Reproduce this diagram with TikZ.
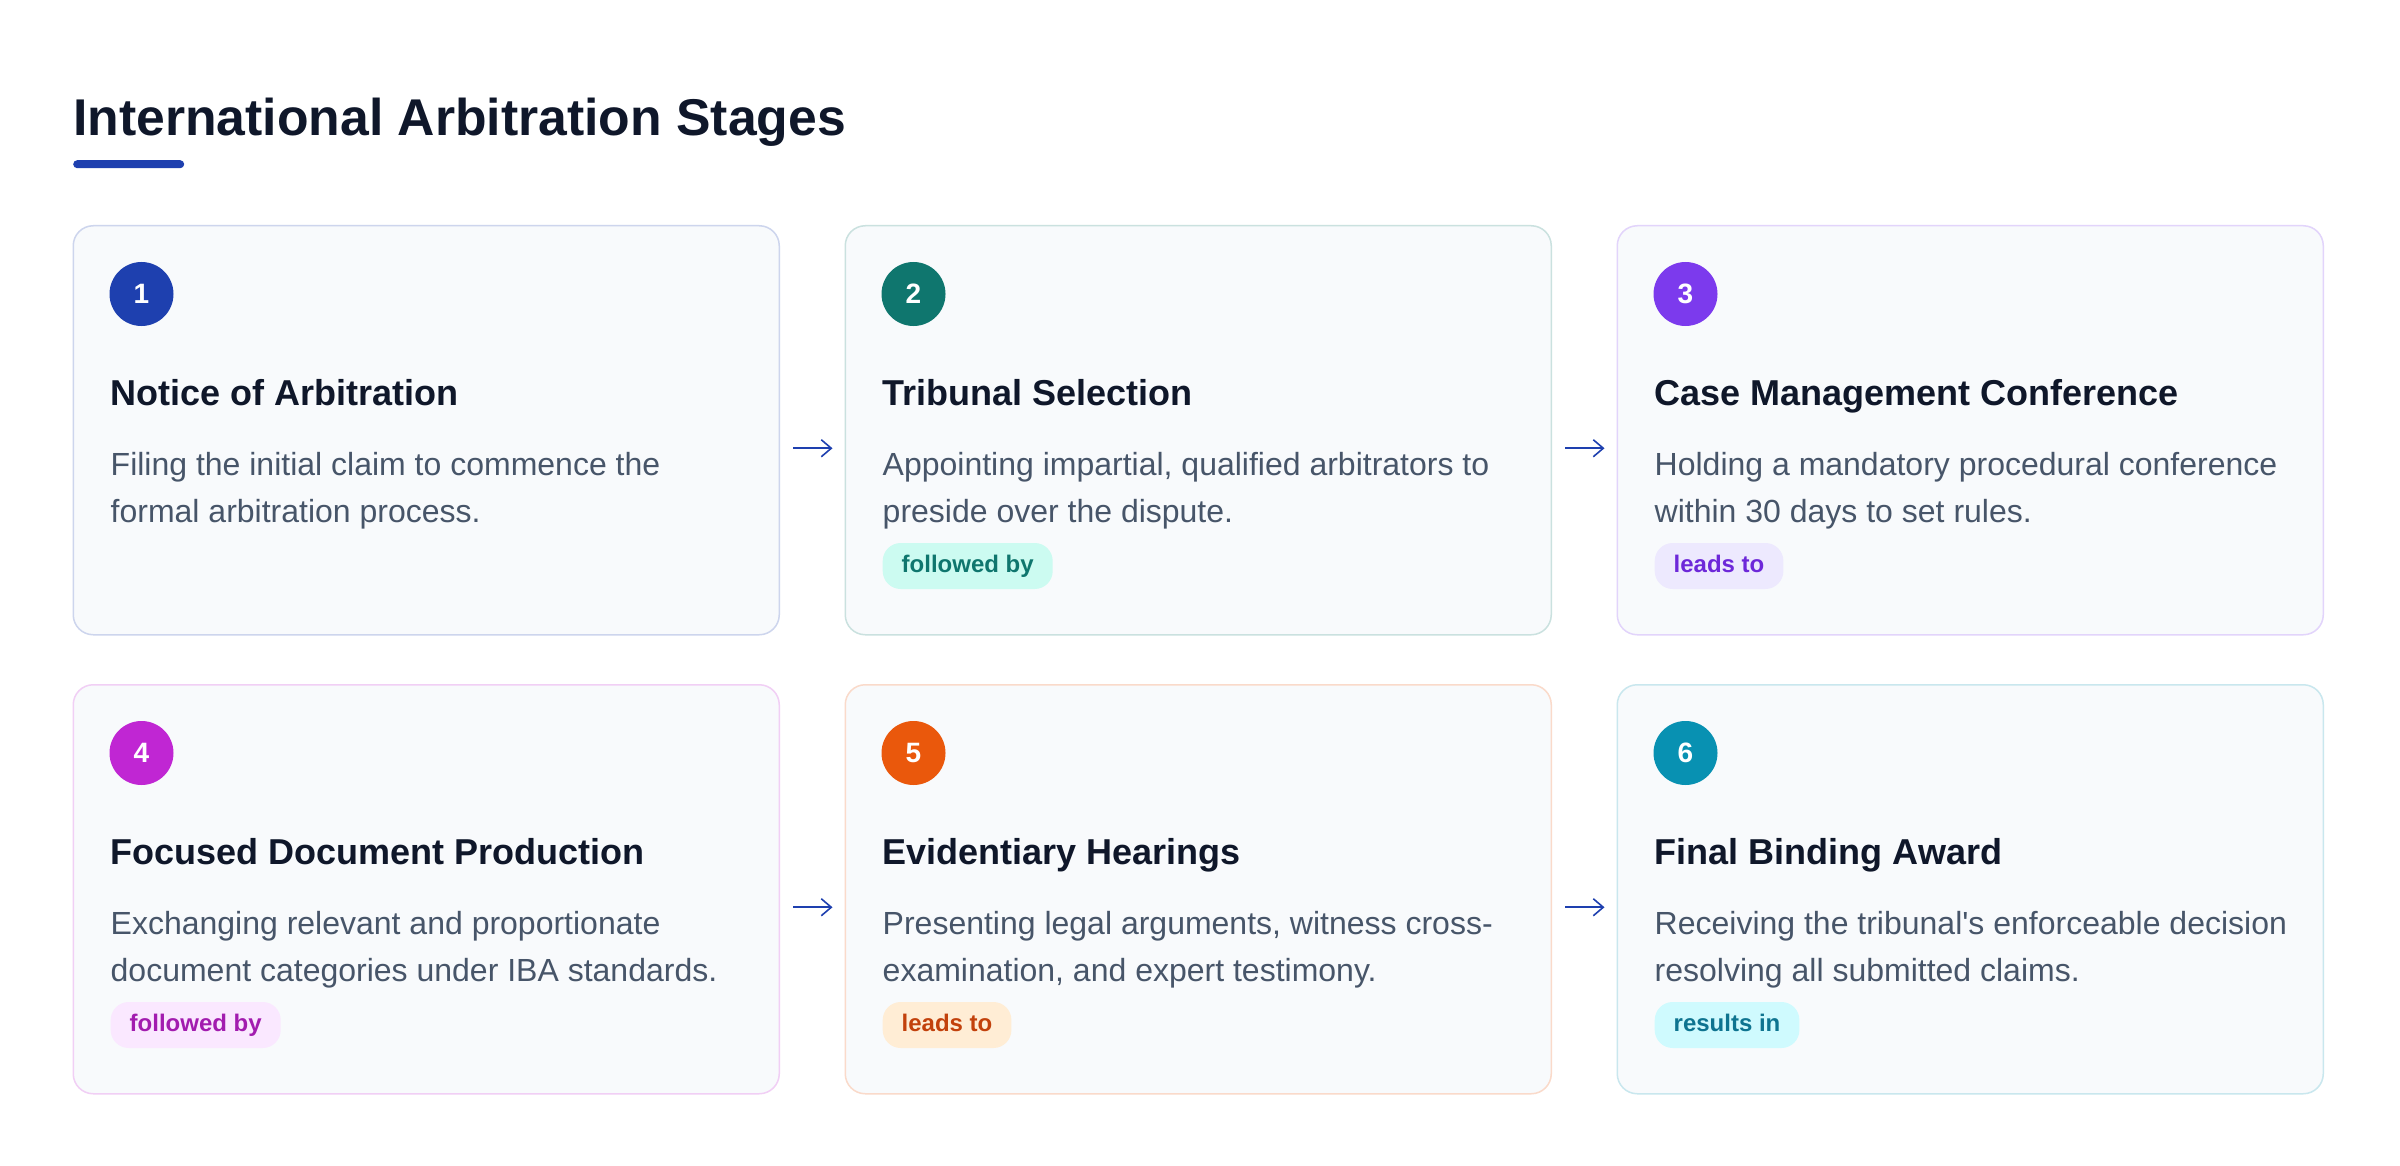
\documentclass[tikz,border=0pt]{standalone}
\usepackage{fontspec}
\setmainfont{Liberation Sans}[Ligatures=TeXOff]
\usetikzlibrary{calc,arrows.meta}
\definecolor{ink}{HTML}{0F172A}
\definecolor{slate}{HTML}{475569}
\definecolor{cardbg}{HTML}{F8FAFC}
\definecolor{accA}{HTML}{1E40AF}
\definecolor{accB}{HTML}{0F766E}
\definecolor{accC}{HTML}{7C3AED}
\definecolor{accD}{HTML}{C026D3}
\definecolor{accE}{HTML}{EA580C}
\definecolor{accF}{HTML}{0891B2}
\definecolor{bgB}{HTML}{CCFBF1}
\definecolor{txB}{HTML}{0F766E}
\definecolor{bgC}{HTML}{EDE9FE}
\definecolor{txC}{HTML}{6D28D9}
\definecolor{bgD}{HTML}{FAE8FF}
\definecolor{txD}{HTML}{A21CAF}
\definecolor{bgE}{HTML}{FFEDD5}
\definecolor{txE}{HTML}{C2410C}
\definecolor{bgF}{HTML}{CFFAFE}
\definecolor{txF}{HTML}{0E7490}
\tikzset{
  card/.style={draw=#1!22!white, fill=cardbg, line width=1.5pt, rounded corners=20pt,
    minimum width=706pt, minimum height=409pt, anchor=north west, inner sep=0pt},
  num/.style={circle, fill=#1, minimum size=64pt, inner sep=0pt, text=white,
    font=\fontsize{28}{28}\selectfont\bfseries},
  ctitle/.style={anchor=base west, inner sep=0pt, text=ink, font=\fontsize{36}{40}\selectfont\bfseries},
  body/.style={anchor=base west, inner sep=0pt, text=slate, font=\fontsize{32}{40}\selectfont},
  badge/.style={anchor=west, rounded corners=18pt, inner xsep=19pt, inner ysep=0pt,
    minimum height=46pt, text height=17.5pt, text depth=5pt, font=\fontsize{24}{24}\selectfont\bfseries},
  arr/.style={draw=accA, line width=1.6pt, -{Straight Barb[length=10pt,width=17pt,line width=1.6pt]}}
}
\newcommand\mystage[7]{%
  \node[card=#4] (c#1) at (#2,#3) {};
  \node[num=#4] (n#1) at ($(c#1.north west)+(69,69)$) {#1};
  \node[ctitle] (t#1) at ($(c#1.north west)+(38,180)$) {#5};
  \node[body] (d#1a) at ($(c#1.north west)+(38,250)$) {#6};
  \node[body] (d#1b) at ($(c#1.north west)+(38,297)$) {#7};
}
\newcommand\mybadge[4]{%
  \node[badge, fill=#2, text=#3] (g#1) at ($(c#1.north west)+(38,341)$) {#4};
}
\begin{document}
\begin{tikzpicture}[x=1pt,y=-1pt]
  \fill[white] (0,0) rectangle (2400,1166);
  \useasboundingbox (0,0) rectangle (2400,1166);
  \node[anchor=base west, inner sep=0pt, text=ink, font=\fontsize{51.7}{60}\selectfont\bfseries]
    (title) at (73,136) {International Arbitration Stages};
  \node[fill=accA, rounded corners=4pt, minimum width=111pt, minimum height=8pt, inner sep=0pt,
    anchor=north west] (uline) at (73,160) {};
  \mystage{1}{72.5}{225}{accA}{Notice of Arbitration}{Filing the initial claim to commence the}{formal arbitration process.}
  \mystage{2}{844.5}{225}{accB}{Tribunal Selection}{Appointing impartial, qualified arbitrators to}{preside over the dispute.}
  \mystage{3}{1616.5}{225}{accC}{Case Management Conference}{Holding a mandatory procedural conference}{within 30 days to set rules.}
  \mystage{4}{72.5}{684}{accD}{Focused Document Production}{Exchanging relevant and proportionate}{document categories under IBA standards.}
  \mystage{5}{844.5}{684}{accE}{Evidentiary Hearings}{Presenting legal arguments, witness cross-}{examination, and expert testimony.}
  \mystage{6}{1616.5}{684}{accF}{Final Binding Award}{Receiving the tribunal's enforceable decision}{resolving all submitted claims.}
  \mybadge{2}{bgB}{txB}{followed by}
  \mybadge{3}{bgC}{txC}{leads to}
  \mybadge{4}{bgD}{txD}{followed by}
  \mybadge{5}{bgE}{txE}{leads to}
  \mybadge{6}{bgF}{txF}{results in}
  \draw[arr] ([xshift=13pt,yshift=-18pt]c1.east) -- ([xshift=-12pt,yshift=-18pt]c2.west);
  \draw[arr] ([xshift=13pt,yshift=-18pt]c2.east) -- ([xshift=-12pt,yshift=-18pt]c3.west);
  \draw[arr] ([xshift=13pt,yshift=-18pt]c4.east) -- ([xshift=-12pt,yshift=-18pt]c5.west);
  \draw[arr] ([xshift=13pt,yshift=-18pt]c5.east) -- ([xshift=-12pt,yshift=-18pt]c6.west);
\end{tikzpicture}
\end{document}
